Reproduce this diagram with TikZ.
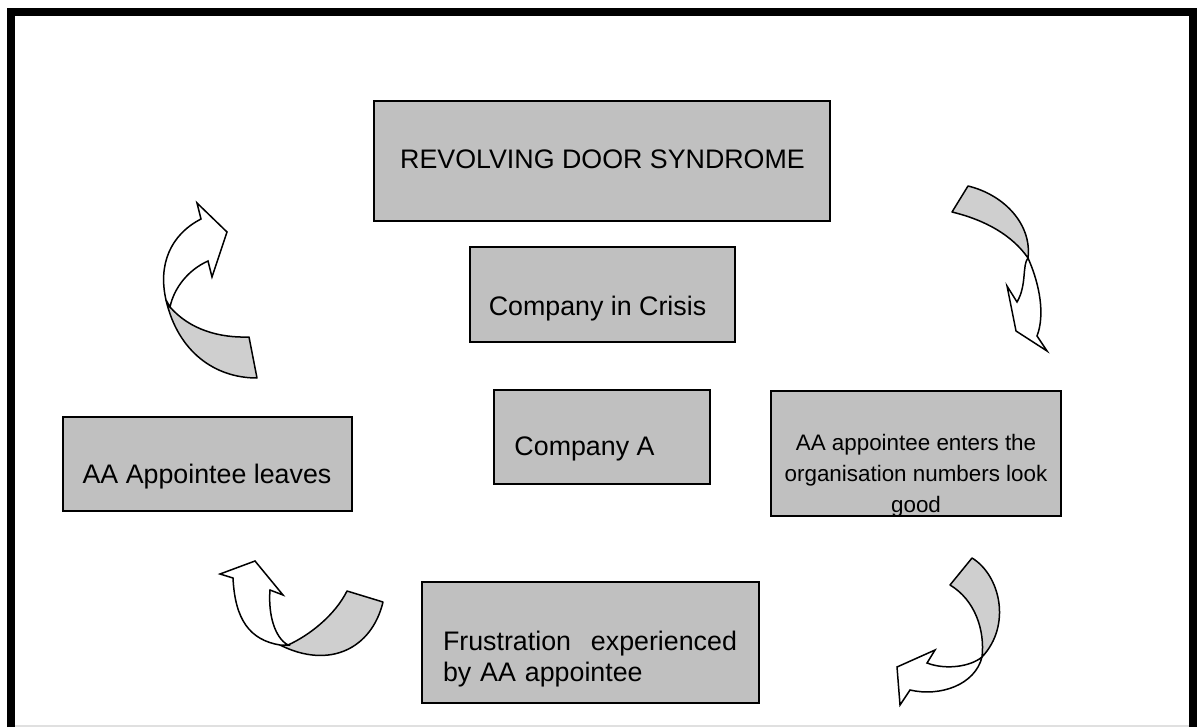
\documentclass[tikz,border=0pt]{standalone}
\usepackage{fontspec}
\setmainfont{Liberation Sans}
\definecolor{boxgray}{HTML}{C0C0C0}
\definecolor{bandgray}{HTML}{CFCFCF}
\begin{document}
\begin{tikzpicture}[x=0.5pt,y=-0.5pt,
  box/.style={draw=black, line width=0.8pt, fill=boxgray, inner sep=0pt},
  lbl/.style={font=\fontsize{13.4}{15.5}\selectfont, text=black, inner sep=0pt},
  band/.style={draw=black, line width=0.75pt, fill=bandgray, line join=round},
  whitepart/.style={draw=black, line width=0.75pt, fill=white, line join=miter},
  frame/.style={draw=black, line width=4pt}]
\useasboundingbox (0,0) rectangle (1197,727);
% frame
\draw[frame] (11,727) -- (11,12) -- (1193,12) -- (1193,727);
\draw[black!12, line width=0.6pt] (15,726) -- (1189,726);
% boxes
\node[box, minimum width=228pt, minimum height=60pt] (title) at (602,161) {};
\node[lbl, anchor=base] (titletxt) at (602.5,169) {REVOLVING DOOR SYNDROME};
\node[box, minimum width=132.5pt, minimum height=47.5pt] (crisis) at (602.5,294.5) {};
\node[lbl, anchor=base] (crisistxt) at (597.5,315) {Company in Crisis};
\node[box, minimum width=108pt, minimum height=47pt] (compa) at (602,437) {};
\node[lbl, anchor=base] (compatxt) at (584.5,455) {Company A};
\node[box, minimum width=144.5pt, minimum height=47pt] (leaves) at (207.5,464) {};
\node[lbl, anchor=base] (leavestxt) at (207,483) {AA Appointee leaves};
\node[box, minimum width=145pt, minimum height=62.5pt] (enters) at (916,453.5) {};
\node[lbl, font=\fontsize{11.2}{15.5}\selectfont, align=center] (enterstxt) at (916,476) {AA appointee enters the\\organisation numbers look\\good};
\node[box, minimum width=168.5pt, minimum height=60.5pt] (frust) at (590.5,642.5) {};
\node[lbl, align=left, text width=147pt] (frusttxt) at (590,659) {Frustration\hfill experienced\\by AA appointee};
% arrow 1 (top left)
\filldraw[band] (170,307) .. controls (190,330) and (220,338) .. (249,337) -- (257,378) .. controls (215,378) and (178,352) .. (166,300) -- cycle;
\filldraw[whitepart] (166,300) .. controls (158,265) and (170,235) .. (201,219) -- (197,203) -- (227,232) -- (212,277) -- (208,261) .. controls (188,270) and (174,288) .. (170,307) -- cycle;
% arrow 2 (top right)
\filldraw[band] (1028,258) .. controls (1032,225) and (1005,195) .. (968,186) -- (952,212) .. controls (985,220) and (1012,235) .. (1028,258) -- cycle;
\filldraw[whitepart] (1028,258) .. controls (1022,265) and (1027,285) .. (1017,302) -- (1007,286) -- (1016,331) -- (1047,351) -- (1037,336) .. controls (1045,315) and (1040,285) .. (1028,258) -- cycle;
% arrow 3 (bottom left)
\filldraw[band] (288,645) .. controls (310,635) and (335,615) .. (347,591) -- (383,602) .. controls (372,648) and (330,670) .. (280,645) -- cycle;
\filldraw[whitepart] (280,645) .. controls (250,640) and (235,620) .. (233,578) -- (220,574) -- (255,561) -- (283,595) -- (270,590) .. controls (268,615) and (275,638) .. (288,645) -- cycle;
% arrow 4 (bottom right)
\filldraw[band] (950,585) -- (972,558) .. controls (1000,575) and (1012,625) .. (982,657) .. controls (985,630) and (975,600) .. (950,585) -- cycle;
\filldraw[whitepart] (982,657) .. controls (975,685) and (940,697) .. (910,690) -- (900,705) -- (897,667) -- (935,650) -- (927,663) .. controls (945,670) and (970,667) .. (982,657) -- cycle;
\end{tikzpicture}
\end{document}
